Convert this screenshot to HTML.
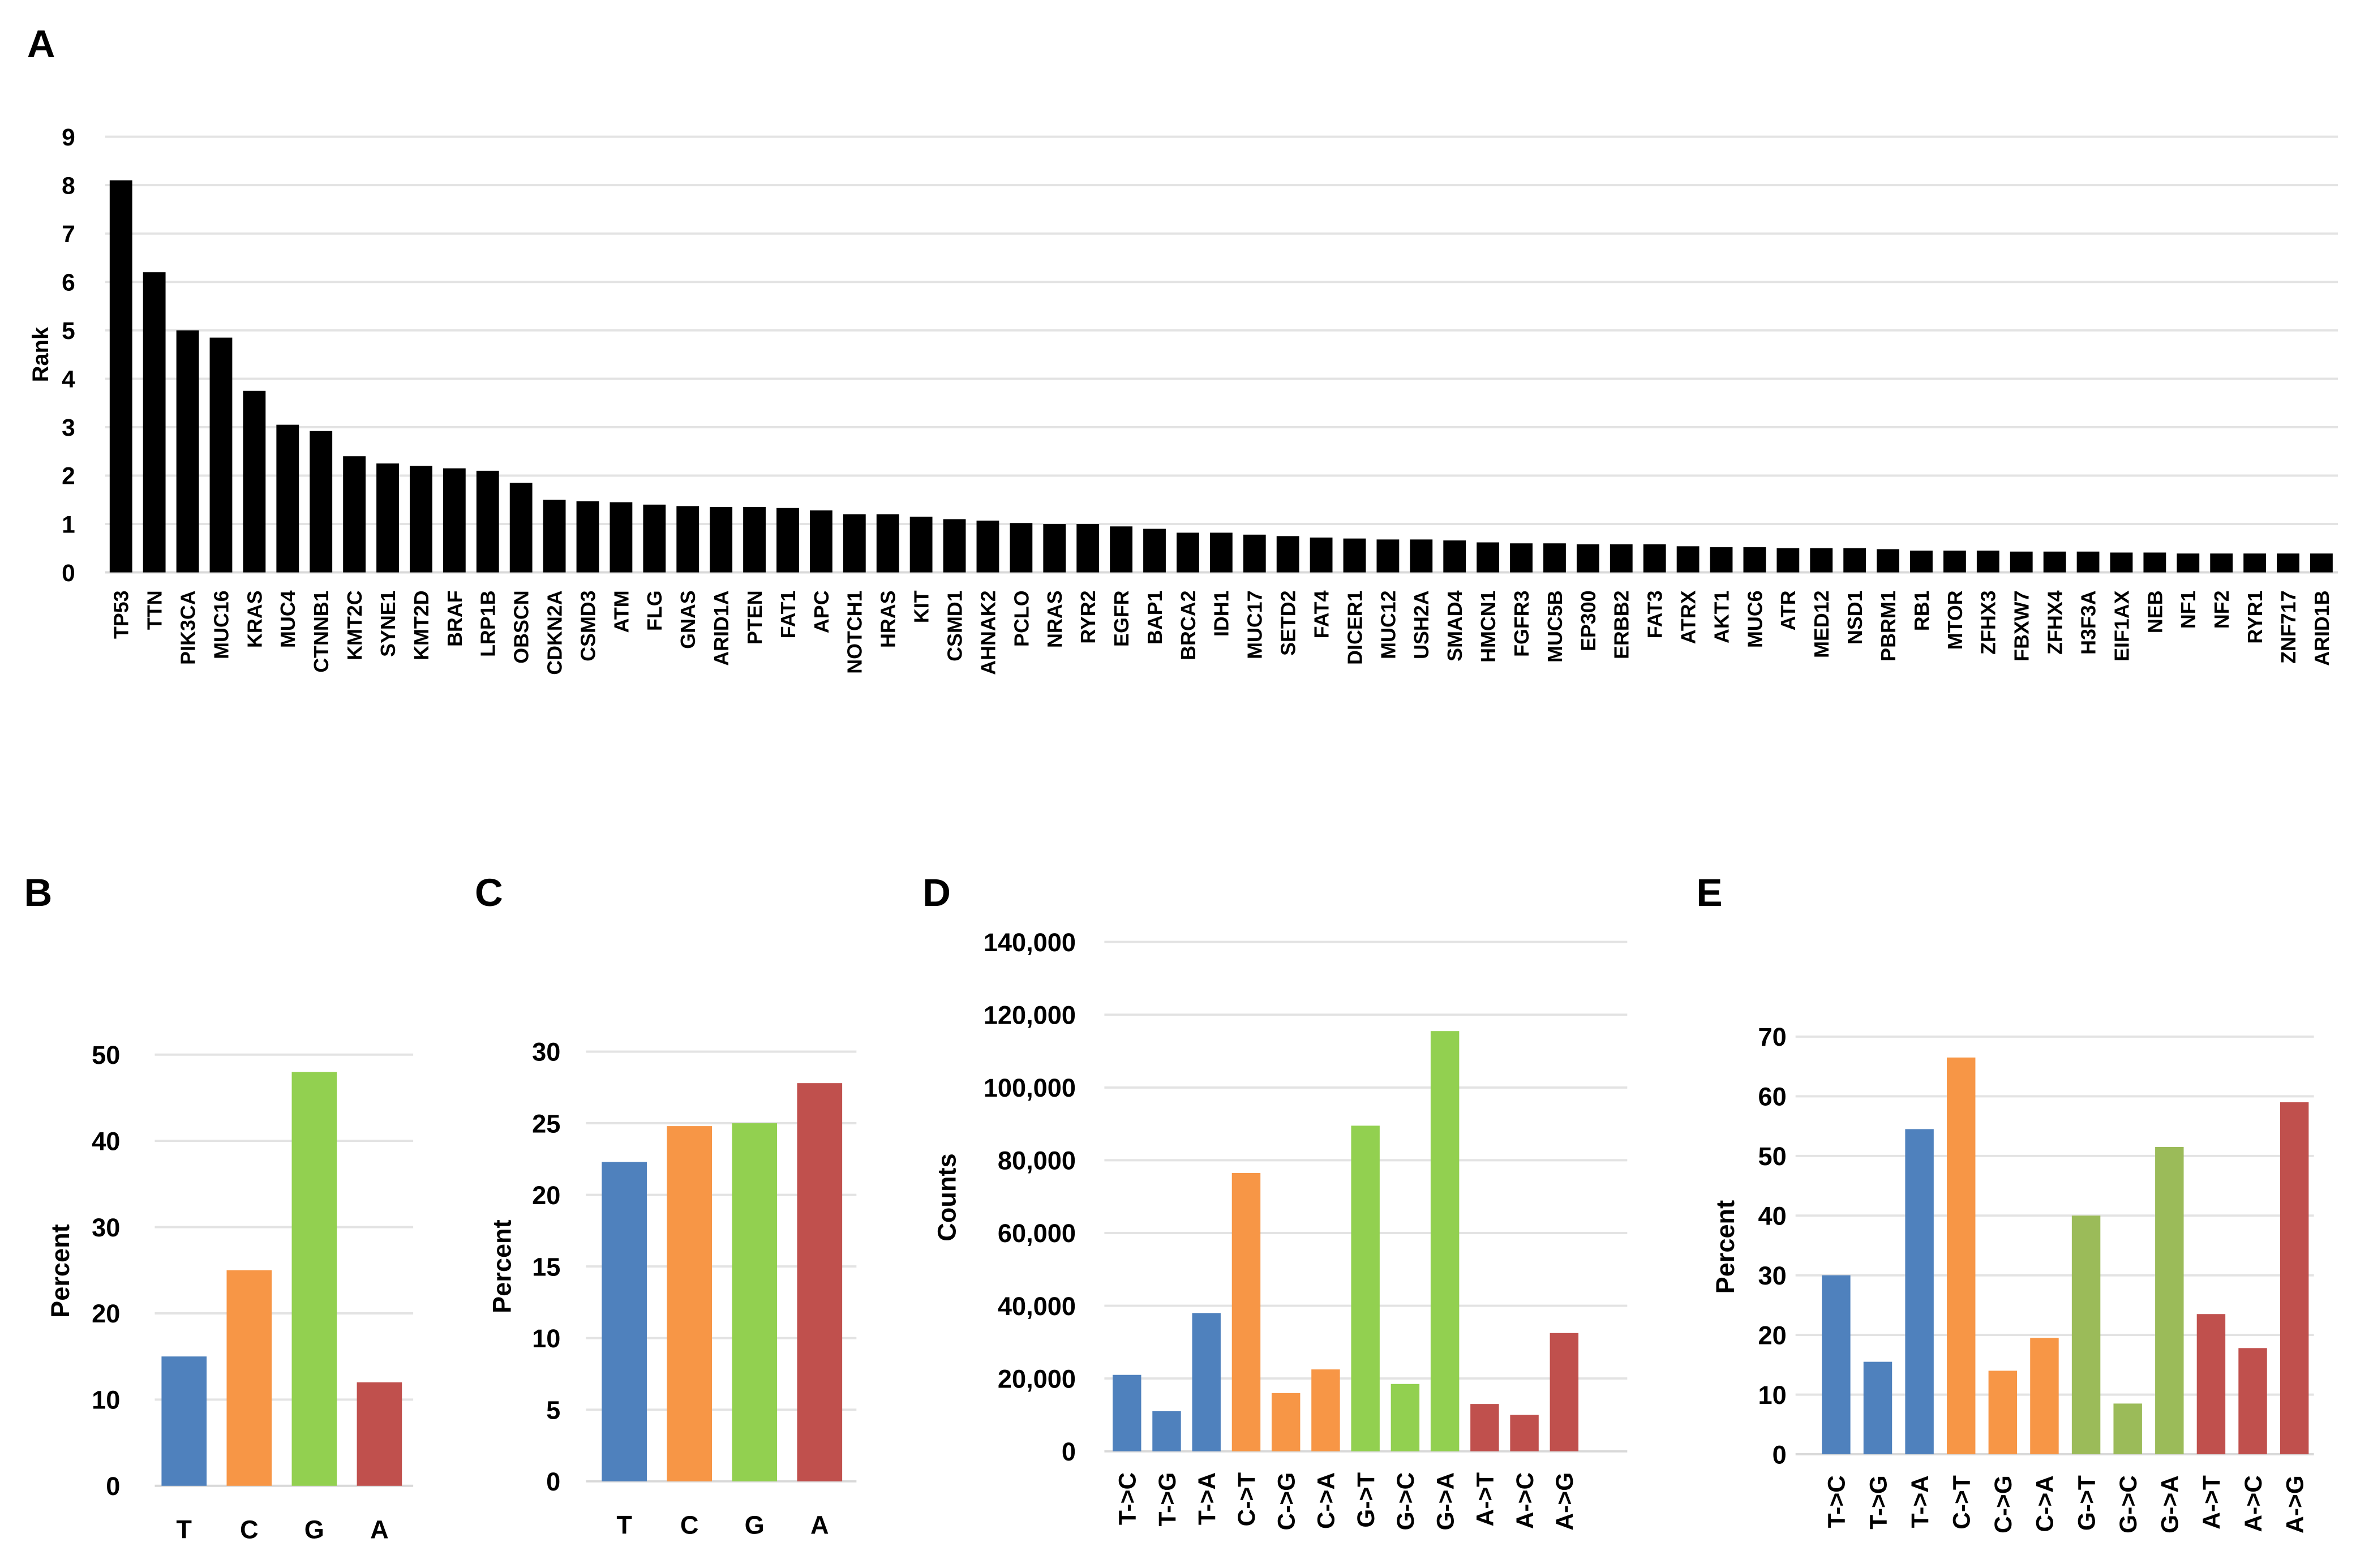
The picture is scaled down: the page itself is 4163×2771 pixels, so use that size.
<!DOCTYPE html>
<html><head><meta charset="utf-8"><style>
html,body{margin:0;padding:0;background:#fff}
svg{display:block}
text{font-family:"Liberation Sans",sans-serif;font-weight:bold;fill:#000}
.tk{font-family:"Liberation Sans Narrow","Liberation Sans",sans-serif}
</style></head><body>
<svg id="fig" xmlns="http://www.w3.org/2000/svg" width="4163" height="2771" viewBox="0 0 1568 1043.7" preserveAspectRatio="none">
<rect width="1568" height="1044" fill="#fff"/>
</svg>
<script>
const genes=["TP53","TTN","PIK3CA","MUC16","KRAS","MUC4","CTNNB1","KMT2C","SYNE1","KMT2D","BRAF","LRP1B","OBSCN","CDKN2A","CSMD3","ATM","FLG","GNAS","ARID1A","PTEN","FAT1","APC","NOTCH1","HRAS","KIT","CSMD1","AHNAK2","PCLO","NRAS","RYR2","EGFR","BAP1","BRCA2","IDH1","MUC17","SETD2","FAT4","DICER1","MUC12","USH2A","SMAD4","HMCN1","FGFR3","MUC5B","EP300","ERBB2","FAT3","ATRX","AKT1","MUC6","ATR","MED12","NSD1","PBRM1","RB1","MTOR","ZFHX3","FBXW7","ZFHX4","H3F3A","EIF1AX","NEB","NF1","NF2","RYR1","ZNF717","ARID1B"];
const geneRank=[8.1,6.2,5.0,4.85,3.75,3.05,2.92,2.4,2.25,2.2,2.15,2.1,1.85,1.5,1.47,1.45,1.4,1.37,1.35,1.35,1.33,1.28,1.2,1.2,1.15,1.1,1.07,1.02,1.0,1.0,0.95,0.9,0.82,0.82,0.78,0.75,0.72,0.7,0.68,0.68,0.66,0.62,0.6,0.6,0.58,0.58,0.58,0.54,0.52,0.52,0.5,0.5,0.5,0.48,0.45,0.45,0.45,0.43,0.43,0.43,0.41,0.41,0.39,0.39,0.39,0.39,0.39];
const rankTicks=[0,1,2,3,4,5,6,7,8,9];
const baseCats=["T","C","G","A"];
const baseB=[15,25,48,12];
const baseC=[22.3,24.8,25,27.8];
const ticksB=[0,10,20,30,40,50];
const ticksC=[0,5,10,15,20,25,30];
const subCats=["T->C","T->G","T->A","C->T","C->G","C->A","G->T","G->C","G->A","A->T","A->C","A->G"];
const countsD=[21000,11000,38000,76500,16000,22500,89500,18500,115500,13000,10000,32500];
const ticksD=[0,20000,40000,60000,80000,100000,120000,140000];
const percentE=[30,15.5,54.5,66.5,14,19.5,40,8.5,51.5,23.5,17.8,59];
const ticksE=[0,10,20,30,40,50,60,70];

const NS="http://www.w3.org/2000/svg";
const svg=document.getElementById('fig');
function mk(tag,attrs,parent){const e=document.createElementNS(NS,tag);for(const k in attrs)e.setAttribute(k,attrs[k]);(parent||svg).appendChild(e);return e;}
function txt(s,attrs,parent){const e=mk('text',attrs,parent);e.textContent=s;return e;}

function panel(o){
  const g=mk('g',{});
  
  
  const y=v=>o.y0-(v-o.ticks[0])/(o.ticks[o.ticks.length-1]-o.ticks[0])*(o.y0-o.y1);
  o.ticks.forEach((t,i)=>{
    const yy=y(t);
    if(i>0){const l=mk('line',{x1:o.gx0,x2:o.gx1,y1:yy,y2:yy,stroke:'#e3e3e3','stroke-width':1.5},g);
      }
    const tl=txt(o.fmt?o.fmt(t):String(t),{x:o.tx,y:yy+o.tfs*0.36,'text-anchor':'end','font-size':o.tfs,class:'tk'},g);
    
  });
  const ax=mk('line',{x1:o.gx0,x2:o.gx1,y1:o.y0,y2:o.y0,stroke:'#d9d9d9','stroke-width':1.5},g);
  
  const n=o.cats.length;
  const x=i=>o.c0+(o.c1-o.c0)*(n>1?i/(n-1):0);
  o.vals.forEach((v,i)=>{
    const top=y(v);
    const r=mk('rect',{x:x(i)-o.bw/2,y:top,width:o.bw,height:o.y0-top,fill:o.color(i)},g);
    
    
    let l;
    if(o.rot){l=txt(o.cats[i],{x:0,y:0,'text-anchor':'end','font-size':o.cfs,transform:`translate(${x(i)+o.cfs*0.36},${o.ly}) rotate(-90)`},g);}
    else{l=txt(o.cats[i],{x:x(i),y:o.ly,'text-anchor':'middle','font-size':o.cfs},g);}
    
  });
  if(o.ytitle){const t=txt(o.ytitle,{x:0,y:0,'text-anchor':'middle','font-size':o.yfs,transform:`translate(${o.ytx},${o.yty}) rotate(-90)`},g);
    }
  const L=txt(o.letter,{x:o.lx,y:o.lyy,'font-size':26},g);
  
}
const BLUE='#4F81BD',ORANGE='#F79646',GREEN='#92D050',OLIVE='#9BBB59',RED='#C0504D';
const base4=[BLUE,ORANGE,GREEN,RED];
const sub12=i=>[BLUE,ORANGE,GREEN,RED][Math.floor(i/3)];
const sub12E=i=>[BLUE,ORANGE,OLIVE,RED][Math.floor(i/3)];
const comma=v=>v.toLocaleString('en-US');

panel({name:'panel-a-gene-rank-chart',letter:'A',lx:18,lyy:38,cats:genes,vals:geneRank,ticks:rankTicks,y0:381,y1:91,gx0:70,gx1:1556,tx:50,tfs:16,c0:80.5,c1:1545,bw:15,color:()=>'#000',rot:true,ly:393,cfs:13.5,ytitle:'Rank',ytx:32,yty:236,yfs:15});
panel({name:'panel-b-base-percent-chart',letter:'B',lx:16,lyy:603,cats:baseCats,vals:baseB,ticks:ticksB,y0:989,y1:702,gx0:103,gx1:275,tx:80,tfs:17,c0:122.5,c1:252.5,bw:30,color:i=>base4[i],rot:false,ly:1024,cfs:17,ytitle:'Percent',ytx:46,yty:846,yfs:17});
panel({name:'panel-c-base-percent-chart',letter:'C',lx:316,lyy:603,cats:baseCats,vals:baseC,ticks:ticksC,y0:986,y1:700,gx0:390,gx1:570,tx:373,tfs:17,c0:415.5,c1:545.5,bw:30,color:i=>base4[i],rot:false,ly:1021,cfs:17,ytitle:'Percent',ytx:340,yty:843,yfs:17});
panel({name:'panel-d-substitution-counts-chart',letter:'D',lx:614,lyy:603,cats:subCats,vals:countsD,ticks:ticksD,y0:966,y1:627,gx0:735,gx1:1083,tx:716,tfs:17,c0:750,c1:1041,bw:19,color:sub12,rot:true,ly:980,cfs:16,ytitle:'Counts',ytx:636,yty:797,yfs:17,fmt:comma});
panel({name:'panel-e-substitution-percent-chart',letter:'E',lx:1129,lyy:603,cats:subCats,vals:percentE,ticks:ticksE,y0:968,y1:690,gx0:1195,gx1:1540,tx:1189,tfs:17,c0:1222,c1:1527,bw:19,color:sub12E,rot:true,ly:982,cfs:16,ytitle:'Percent',ytx:1154,yty:830,yfs:17});
</script>
</body></html>
